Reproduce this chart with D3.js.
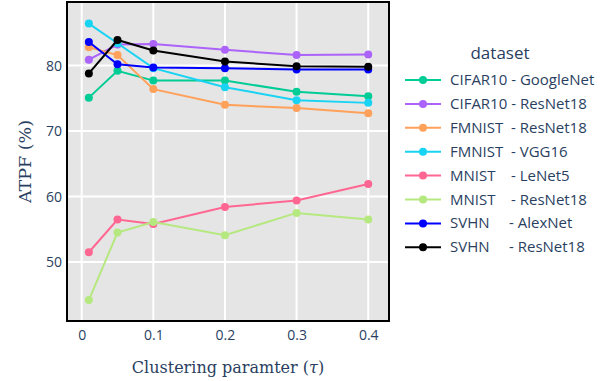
<!DOCTYPE html>
<html><head><meta charset="utf-8">
<script src="https://cdn.jsdelivr.net/npm/d3@7"></script>
<style>body{margin:0;background:#fff;} svg{display:block;}</style>
</head><body>
<script>
const xValues = [0.01, 0.05, 0.1, 0.2, 0.3, 0.4];
const seriesNames = [
  "CIFAR10 - GoogleNet",
  "CIFAR10 - ResNet18",
  "FMNIST  - ResNet18",
  "FMNIST  - VGG16",
  "MNIST    - LeNet5",
  "MNIST    - ResNet18",
  "SVHN     - AlexNet",
  "SVHN     - ResNet18"
];
const cifarGoogleNet = [75.1, 79.2, 77.7, 77.7, 76.0, 75.3];
const cifarResNet18  = [80.9, 83.2, 83.3, 82.4, 81.6, 81.7];
const fmnistResNet18 = [82.8, 81.6, 76.4, 74.0, 73.5, 72.7];
const fmnistVGG16    = [86.4, 83.4, 79.6, 76.7, 74.7, 74.3];
const mnistLeNet5    = [51.5, 56.5, 55.8, 58.4, 59.4, 61.9];
const mnistResNet18  = [44.2, 54.5, 56.1, 54.1, 57.5, 56.5];
const svhnAlexNet    = [83.6, 80.2, 79.7, 79.6, 79.4, 79.4];
const svhnResNet18   = [78.8, 83.9, 82.3, 80.6, 79.9, 79.8];
const seriesValues = [cifarGoogleNet, cifarResNet18, fmnistResNet18, fmnistVGG16, mnistLeNet5, mnistResNet18, svhnAlexNet, svhnResNet18];
const colors = ["#00cc96", "#ab63fa", "#FFA15A", "#19d3f3", "#FF6692", "#B6E880", "#0000ff", "#000000"];
const xTicks = [0, 0.1, 0.2, 0.3, 0.4];
const yTicks = [50, 60, 70, 80];

const W = 613, H = 381;
const pL = 67, pR = 389, pT = 2, pB = 321;
const svg = d3.select("body").append("svg").attr("width", W).attr("height", H);
const x = d3.scaleLinear().domain([-0.0205, 0.429]).range([pL, pR]);
const y = d3.scaleLinear().domain([41.0, 89.7]).range([pB, pT]);
const fontColor = "#2a3f5f";
const sans = "'Open Sans', verdana, arial, sans-serif";
const serif = "'DejaVu Serif', 'Liberation Serif', serif";

svg.append("rect").attr("x", pL).attr("y", pT).attr("width", pR-pL).attr("height", pB-pT).attr("fill", "#e5e5e5");

// grid
svg.append("g").selectAll("line").data(xTicks).join("line")
  .attr("x1", d => x(d)).attr("x2", d => x(d)).attr("y1", pT).attr("y2", pB)
  .attr("stroke", "#fff").attr("stroke-width", 2);
svg.append("g").selectAll("line").data(yTicks).join("line")
  .attr("y1", d => y(d)).attr("y2", d => y(d)).attr("x1", pL).attr("x2", pR)
  .attr("stroke", "#fff").attr("stroke-width", 2);

// axes (labels only)
const xAxis = svg.append("g").attr("transform", `translate(0,${pB})`)
  .call(d3.axisBottom(x).tickValues(xTicks).tickSize(0).tickPadding(9).tickFormat(d => d === 0 ? "0" : d3.format(".1f")(d)));
xAxis.select(".domain").remove();
xAxis.selectAll("text").attr("font-family", sans).attr("font-size", 14).attr("fill", fontColor);
const yAxis = svg.append("g").attr("transform", `translate(${pL},0)`)
  .call(d3.axisLeft(y).tickValues(yTicks).tickSize(0).tickPadding(5));
yAxis.select(".domain").remove();
yAxis.selectAll("text").attr("font-family", sans).attr("font-size", 14).attr("fill", fontColor);

// border
svg.append("rect").attr("x", pL).attr("y", pT).attr("width", pR-pL).attr("height", pB-pT)
  .attr("fill", "none").attr("stroke", "#000").attr("stroke-width", 2);

// series
const line = d3.line().x((d, i) => x(xValues[i])).y(d => y(d));
seriesValues.forEach((vals, si) => {
  const g = svg.append("g");
  g.append("path").datum(vals).attr("d", line).attr("fill", "none")
    .attr("stroke", colors[si]).attr("stroke-width", 2);
  g.selectAll("circle").data(vals).join("circle")
    .attr("cx", (d, i) => x(xValues[i])).attr("cy", d => y(d)).attr("r", 4).attr("fill", colors[si]);
});

// axis titles
svg.append("text").attr("x", (pL+pR)/2).attr("y", 373).attr("text-anchor", "middle")
  .attr("font-family", serif).attr("font-size", 16).attr("fill", fontColor)
  .html('Clustering paramter (<tspan font-style="italic">τ</tspan>)');
svg.append("text").attr("transform", `translate(31,${(pT+pB)/2}) rotate(-90)`).attr("text-anchor", "middle")
  .attr("font-family", serif).attr("font-size", 17.5).attr("fill", fontColor)
  .text("ATPF (%)");

// legend
const lg = svg.append("g");
lg.append("text").attr("x", 500).attr("y", 59).attr("text-anchor", "middle")
  .attr("font-family", sans).attr("font-size", 17).attr("fill", fontColor).text("dataset");
seriesNames.forEach((name, i) => {
  const yy = 80 + i * 23.9;
  lg.append("line").attr("x1", 405).attr("x2", 441).attr("y1", yy).attr("y2", yy)
    .attr("stroke", colors[i]).attr("stroke-width", 2);
  lg.append("circle").attr("cx", 423).attr("cy", yy).attr("r", 4).attr("fill", colors[i]);
  lg.append("text").attr("x", 450).attr("y", yy + 5).attr("xml:space", "preserve")
    .style("white-space", "pre")
    .attr("font-family", sans).attr("font-size", 15).attr("fill", fontColor).text(name);
});
</script>
</body></html>
